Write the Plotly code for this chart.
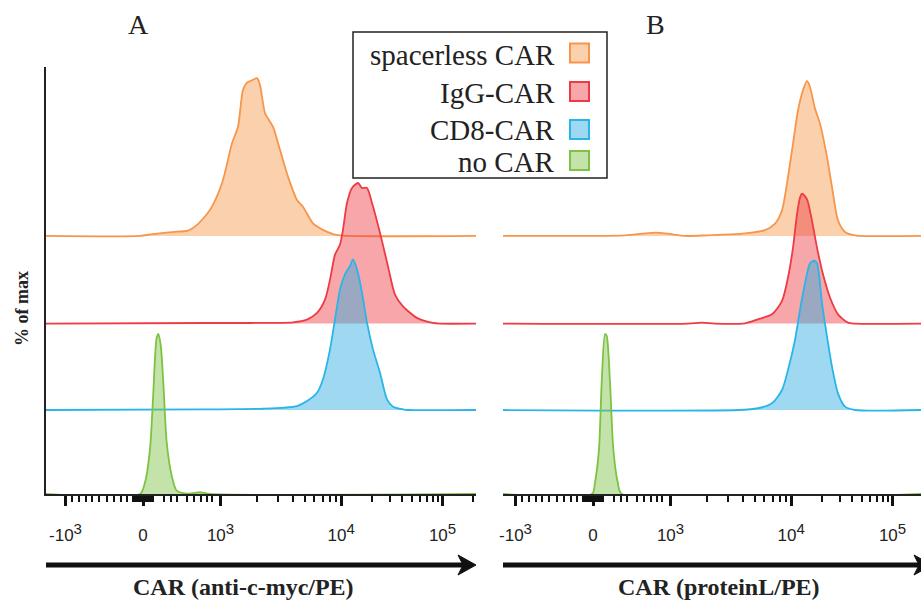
import numpy as np
import plotly.graph_objects as go

# ---------------- data (display channels vs % of max) ----------------
series_names = ["spacerless CAR", "IgG-CAR", "CD8-CAR", "no CAR"]

# Panel A : CAR (anti-c-myc/PE)
a_orange_x = [-97, -3, 10, 34, 44, 54, 67, 79, 89, 95, 100, 104, 108, 114, 117, 122, 127, 130, 137, 145, 154, 160, 170, 180, 190, 200, 333]
a_orange_y = [0, 0, 1.2, 2.7, 3.1, 6.9, 16.3, 32.9, 57.9, 68.3, 91.3, 95.8, 97, 98.6, 94.4, 76.7, 71.4, 68.3, 53.8, 37.1, 22.5, 18.3, 7.9, 3.8, 1.2, 0.2, 0]
a_red_x = [-97, 64, 107, 150, 164, 174, 182, 187, 192, 197, 200, 204, 209, 215, 219, 224, 229, 237, 245, 252, 260, 274, 290, 297, 333]
a_red_y = [0, 0.4, 0.4, 0.8, 2.5, 6.7, 15, 27.5, 43.1, 49.4, 58.8, 75.4, 84.8, 87.9, 84.8, 84.8, 75.4, 56.7, 35.8, 18.1, 10.8, 3.6, 0.4, 0, 0]
a_blue_x = [-97, 60, 120, 154, 164, 174, 180, 187, 192, 197, 202, 207, 210, 214, 219, 224, 230, 237, 244, 250, 260, 265, 333]
a_blue_y = [0, 0.4, 0.8, 2.5, 5.6, 10.8, 19.2, 37.9, 56.7, 75.4, 84.8, 90, 94.2, 87.9, 73.3, 54.6, 37.9, 23.3, 6.7, 2.1, 0.4, 0, 0]
a_green_x = [-97, -3, 2, 7, 10, 13.5, 15.3, 17.7, 20.3, 23.7, 28.7, 33.7, 44, 50, 57, 67, 333]
a_green_y = [0, 0, 7.3, 28.1, 59.4, 97, 100, 93, 69.8, 32.3, 11.4, 2.1, 0.2, 0.6, 1.1, 0, 0]

# Panel B : CAR (proteinL/PE)
b_orange_x = [-90, 32, 49, 62, 75, 92, 115, 149, 172, 182, 189, 195, 200, 205, 210, 214, 217, 222, 227, 234, 239, 245, 252, 262, 328]
b_orange_y = [0, 0.4, 1.4, 2.1, 1.4, 0, 0.4, 1.4, 3.6, 7.7, 16.1, 36.9, 57.7, 78.6, 91.1, 96.9, 93.1, 79.6, 70.2, 49.4, 30.6, 9.8, 2.5, 0.4, 0]
b_red_x = [-90, 95, 109, 122, 152, 165, 179, 189, 195, 200, 204, 207, 209, 214, 219, 224, 230, 237, 245, 255, 262, 328]
b_red_y = [0, 0, 0.6, 0, 0.2, 2.7, 5.8, 14.2, 28.8, 47.5, 68.3, 78.8, 81.3, 77.7, 64.2, 47.5, 30.8, 16.3, 5.8, 0.6, 0, 0]
b_blue_x = [-90, 145, 165, 179, 189, 195, 202, 207, 212, 217, 221, 224, 229, 234, 239, 245, 252, 262, 328]
b_blue_y = [0, 0, 1.1, 4.2, 12.5, 25, 43.8, 62.5, 79.2, 91.7, 93.3, 91.7, 66.7, 45.8, 27.1, 10.4, 2.1, 0, 0]
b_green_x = [-90, -1, 2, 6, 8.7, 12, 13.7, 17, 20.3, 24.7, 28.7, 328]
b_green_y = [0, 0, 7.3, 28.1, 69.8, 100, 98.8, 69.8, 28.1, 7.3, 0, 0]

# axis ticks (biexponential display channels)
tick_bases = ["-10", "0", "10", "10", "10"]
tick_exps = ["3", "", "3", "4", "5"]
tick_channels = [-77.5, 0, 77.5, 198.2, 299.5]
lin_minor_channels = [-70.8, -64.2, -57.5, -50.8, -44.2, -35.8, -29.2, -22.5, -15.8,
                      -10, -8, -6, -4, -2, 2, 4, 6, 8, 10,
                      20.8, 27.5, 34.2, 44.2, 50.8, 57.5, 64.2, 69.2]

# ---------------- styling ----------------
line_cols = ["#F7964A", "#EE3B43", "#29B5E8", "#7DC242"]
fill_cols = ["rgba(247,150,74,0.45)", "rgba(237,59,67,0.45)", "rgba(41,170,225,0.45)", "rgba(125,194,66,0.45)"]
lane_offsets = [161.3, 106.5, 52.5, 0]
Y_MAX = 266.9

L, T, B_M = 46, 67, 110
W, H = 921, 604
PW = W - L
PH = H - T - B_M


def xp(px):
    return (px - L) / PW


def yp(py):
    return (H - B_M - py) / PH


tick_labels = [b + ("<sup><span style='font-size:15px'>%s</span></sup>" % e if e else "")
               for b, e in zip(tick_bases, tick_exps)]

# minor log ticks
decade_minor = []
for i in range(2, 4):
    lo, hi = tick_channels[i], tick_channels[i + 1]
    for m in range(2, 10):
        decade_minor.append(lo + np.log10(m) * (hi - lo))
last_w = tick_channels[4] - tick_channels[3]
for m in range(2, 4):
    decade_minor.append(tick_channels[4] + np.log10(m) * last_w)
minor_vals = lin_minor_channels + decade_minor

fig = go.Figure()
panels = [
    ("x", "y", [(a_orange_x, a_orange_y), (a_red_x, a_red_y), (a_blue_x, a_blue_y), (a_green_x, a_green_y)]),
    ("x2", "y2", [(b_orange_x, b_orange_y), (b_red_x, b_red_y), (b_blue_x, b_blue_y), (b_green_x, b_green_y)]),
]
for xa, ya, curves in panels:
    for k, (xs, ys) in enumerate(curves):
        off = lane_offsets[k]
        fig.add_trace(go.Scatter(
            x=xs, y=[off + v for v in ys], xaxis=xa, yaxis=ya,
            mode="lines", line=dict(color=line_cols[k], width=1.8, shape="spline", smoothing=0.7),
            fill="toself", fillcolor=fill_cols[k], name=series_names[k],
            showlegend=False, hoverinfo="skip"))

xaxis_common = dict(
    showline=True, linecolor="#222", linewidth=1.5, showgrid=False, zeroline=False,
    ticks="outside", ticklen=10, tickwidth=3, tickcolor="#111",
    tickmode="array", tickvals=tick_channels, ticktext=tick_labels,
    tickfont=dict(family="Liberation Sans, Arial", size=17, color="#222"),
    ticklabelstandoff=15,
    minor=dict(tickmode="array", tickvals=minor_vals, ticks="outside", ticklen=6, tickwidth=2, tickcolor="#111"),
)
fig.update_layout(
    width=W, height=H, margin=dict(l=L, r=0, t=T, b=B_M),
    paper_bgcolor="white", plot_bgcolor="white", showlegend=False,
    xaxis=dict(domain=[0, xp(476)], range=[-97, 333], anchor="y", **xaxis_common),
    xaxis2=dict(domain=[xp(503), 1], range=[-90, 328], anchor="y2", **xaxis_common),
    yaxis=dict(range=[0, Y_MAX], showline=True, linecolor="#222", linewidth=1.5, showticklabels=False,
               ticks="", showgrid=False, zeroline=False),
    yaxis2=dict(range=[0, Y_MAX], anchor="x2", showline=False, showticklabels=False,
                ticks="", showgrid=False, zeroline=False),
)

serif = "Liberation Serif, Times New Roman, serif"
ann = []
ann.append(dict(x=xp(138), y=yp(25), text="A", font=dict(family=serif, size=28, color="#222")))
ann.append(dict(x=xp(655), y=yp(25), text="B", font=dict(family=serif, size=28, color="#222")))
ann.append(dict(x=xp(22), y=yp(309), text="<b>% of max</b>", textangle=-90,
                font=dict(family=serif, size=18, color="#222")))
ann.append(dict(x=xp(243), y=yp(587), text="<b>CAR (anti-c-myc/PE)</b>", font=dict(family=serif, size=24, color="#222")))
ann.append(dict(x=xp(719), y=yp(587), text="<b>CAR (proteinL/PE)</b>", font=dict(family=serif, size=24, color="#222")))

shapes = []
# legend box
shapes.append(dict(type="rect", xref="paper", yref="paper", x0=xp(353), x1=xp(607), y0=yp(32), y1=yp(178),
                   line=dict(color="#222", width=1.5), fillcolor="white", layer="above"))
text_y = [55, 93, 130, 162]
sq_y = [53, 91.5, 129.5, 160.5]
for k, name in enumerate(series_names):
    ann.append(dict(x=xp(557), y=yp(text_y[k]), text=name, xanchor="right",
                    font=dict(family=serif, size=29, color="#222")))
    shapes.append(dict(type="rect", xref="paper", yref="paper", x0=xp(570), x1=xp(589),
                       y0=yp(sq_y[k] - 9.5), y1=yp(sq_y[k] + 9.5),
                       line=dict(color=line_cols[k], width=2), fillcolor=fill_cols[k], layer="above"))

# arrows under x axes
for x0, tip in [(46, 476), (503, 932)]:
    yy = 565
    shapes.append(dict(type="line", xref="paper", yref="paper", x0=xp(x0), x1=xp(tip - 8), y0=yp(yy), y1=yp(yy),
                       line=dict(color="#111", width=5)))
    path = "M {} {} L {} {} L {} {} L {} {} Z".format(
        xp(tip), yp(yy), xp(tip - 18), yp(yy - 10), xp(tip - 13), yp(yy), xp(tip - 18), yp(yy + 10))
    shapes.append(dict(type="path", xref="paper", yref="paper", path=path,
                       fillcolor="#111", line=dict(color="#111", width=1)))

for a in ann:
    a.setdefault("xref", "paper")
    a.setdefault("yref", "paper")
    a.setdefault("showarrow", False)
    a.setdefault("xanchor", "center")
    a.setdefault("yanchor", "middle")
fig.update_layout(annotations=ann, shapes=shapes)

fig.write_html("out.html", config={"displayModeBar": False},
               post_script="document.body.style.margin='0';document.body.style.overflow='hidden';")
